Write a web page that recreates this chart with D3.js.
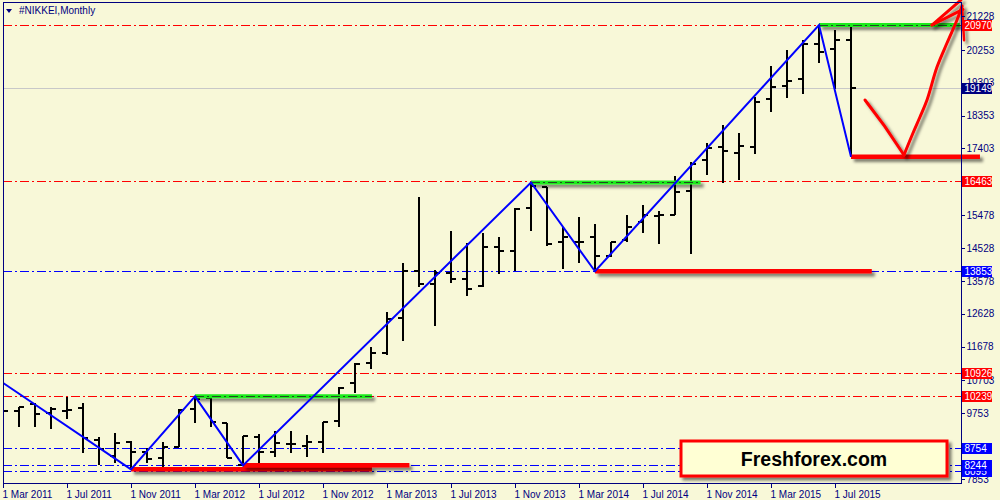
<!DOCTYPE html>
<html><head><meta charset="utf-8">
<script src="https://cdn.jsdelivr.net/npm/d3@7/dist/d3.min.js"></script>
<style>
html,body{margin:0;padding:0;background:#F8F8D8;}
svg{display:block;}
</style>
</head><body>
<svg id="chart" width="1000" height="500"></svg>
<script>
// ---------- DATA ----------
const months = ["Mar 2011","Apr 2011","May 2011","Jun 2011","Jul 2011","Aug 2011","Sep 2011","Oct 2011","Nov 2011","Dec 2011",
"Jan 2012","Feb 2012","Mar 2012","Apr 2012","May 2012","Jun 2012","Jul 2012","Aug 2012","Sep 2012","Oct 2012","Nov 2012","Dec 2012",
"Jan 2013","Feb 2013","Mar 2013","Apr 2013","May 2013","Jun 2013","Jul 2013","Aug 2013","Sep 2013","Oct 2013","Nov 2013","Dec 2013",
"Jan 2014","Feb 2014","Mar 2014","Apr 2014","May 2014","Jun 2014","Jul 2014","Aug 2014","Sep 2014","Oct 2014","Nov 2014","Dec 2014",
"Jan 2015","Feb 2015","Mar 2015","Apr 2015","May 2015","Jun 2015","Jul 2015","Aug 2015"];
const openV  = [10754,9823,10008,9765,9823,9893,8977,8514,8933,8638,8448,8783,9864,10182,9459,8262,9054,8638,8852,8812,8910,9534,10615,11193,11482,12494,13869,13485,13811,13621,13420,14563,14447,15690,16280,14690,14707,14835,14294,14756,15268,15460,15470,16187,17068,17453,17279,17453,18840,19207,19409,20412,20268,20536];
const highV  = [10768,9939,10037,9922,10211,10037,9072,9188,8948,8737,8927,9864,10239,10200,9459,9101,9150,9237,9237,9121,9505,10500,11193,11655,12667,14083,15990,13890,15025,14661,14967,14852,15673,16420,16280,15124,15412,15219,14707,15479,15768,15603,16606,17002,17551,18080,17840,18898,19785,20247,20536,20970,20826,20941];
const lowV   = [8205,9361,9361,9286,9575,8592,8254,8303,8130,8303,8205,8766,9476,9361,8448,8244,8321,8494,8609,8476,8609,9361,10343,11020,11433,11846,13407,12280,13505,13147,13407,13765,13869,15025,14583,13910,14083,13853,14256,14707,14950,14632,15470,14352,16635,16412,16490,17242,18464,18869,18976,19863,19112,17164];
const closeV = [9823,9930,9719,9864,9844,9026,8708,8881,8638,8427,8766,9844,10153,9488,8448,9101,8621,8881,8852,8910,9488,10488,11164,11482,12465,13869,13485,13811,13629,13332,14563,14447,15652,16317,14641,14852,14707,14294,14690,15141,15479,15490,16152,16953,17424,17337,17473,18753,19187,19352,20412,20198,20536,19149];

const yTickValues = [21228,20253,19303,18353,17403,15478,14528,13578,12628,11678,10703,9753,7853];
const xTickIndex  = [0,4,8,12,16,20,24,28,32,36,40,44,48,52];
const xTickLabels = ["1 Mar 2011","1 Jul 2011","1 Nov 2011","1 Mar 2012","1 Jul 2012","1 Nov 2012","1 Mar 2013","1 Jul 2013","1 Nov 2013","1 Mar 2014","1 Jul 2014","1 Nov 2014","1 Mar 2015","1 Jul 2015"];

const redLevels  = [20970,16463,10926,10239];
const blueLevels = [13853,8754,8095,8244];
const currentPrice = 19149;

const zigIdx = [-1,8,12,15,33,37,51,53];
const zigVal = [10940,8130,10239,8244,16420,13853,20970,17164];

// support (red) / resistance (green) segments: start index, end index, value
const supFrom = [53,37,8,15],  supTo = [61.06,54.3,23.06,25.4], supVal = [17164,13853,8130,8244];
const resFrom = [51,33,12],    resTo = [59.8,43.6,23.06],       resVal = [20970,16420,10239];

// hand-drawn arrow (month index, price)
const arrowIdx = [53.875,55.1,56.31,56.875,57.31,57.75,58.375,59.0,59.625,59.94];
const arrowVal = [18803,18050,17213,17849,18311,18803,19756,20450,21115,21519];

const titleText = "#NIKKEI,Monthly";
const brandText = "Freshforex.com";

// ---------- LAYOUT ----------
const svg = d3.select("#chart");
const L = 3, R = 961, T = 2, B = 483;
const x = d3.scaleLinear().domain([0, 53]).range([3, 851]);
const y = d3.scaleLinear().domain([7853, 21228]).range([478.9, 16.1]);
const font = "'Liberation Sans', Arial, sans-serif";
const navy = "#000080";

const defs = svg.append("defs");
defs.append("clipPath").attr("id","plot").append("rect")
  .attr("x",L).attr("y",T).attr("width",R-L).attr("height",B-T);
const f = defs.append("filter").attr("id","shadow").attr("filterUnits","userSpaceOnUse")
  .attr("x",0).attr("y",0).attr("width",1000).attr("height",500);
f.append("feDropShadow").attr("dx",3).attr("dy",3).attr("stdDeviation",1.8)
  .attr("flood-color","#000").attr("flood-opacity",0.5);

const dashDot = "9,3,2,3";

// level lines
const gl = svg.append("g").attr("clip-path","url(#plot)").attr("shape-rendering","crispEdges");
gl.append("line").attr("x1",L).attr("x2",R).attr("y1",Math.round(y(currentPrice))+0.5).attr("y2",Math.round(y(currentPrice))+0.5)
  .attr("stroke","#C8C8C8").attr("stroke-width",1);
redLevels.forEach(v=>{
  const yy = Math.round(y(v))+0.5;
  gl.append("line").attr("x1",L).attr("x2",R).attr("y1",yy).attr("y2",yy)
    .attr("stroke","#FF0000").attr("stroke-width",1).attr("stroke-dasharray",dashDot);
});
blueLevels.forEach(v=>{
  const yy = Math.round(y(v))+0.5;
  gl.append("line").attr("x1",L).attr("x2",R).attr("y1",yy).attr("y2",yy)
    .attr("stroke","#0000FF").attr("stroke-width",1).attr("stroke-dasharray",dashDot);
});

// OHLC bars
const gb = svg.append("g").attr("clip-path","url(#plot)").attr("shape-rendering","crispEdges")
  .attr("stroke","#000").attr("stroke-width",2).attr("fill","none");
months.forEach((m,i)=>{
  const cx = Math.round(x(i));
  gb.append("path").attr("d",
    `M${cx},${y(highV[i])}V${y(lowV[i])}` +
    `M${cx-5},${y(openV[i])}H${cx}` +
    `M${cx},${y(closeV[i])}H${cx+5}`);
});

// green resistance lines + red support lines (thick with shadow)
const ga = svg.append("g");
resVal.forEach((v,i)=>{
  const x1 = x(resFrom[i]), x2 = Math.min(x(resTo[i]), R-1);
  ga.append("line").attr("x1",x1).attr("x2",x2).attr("y1",y(v)).attr("y2",y(v))
    .attr("stroke","#1EEB1E").attr("stroke-width",4).attr("filter","url(#shadow)");
  ga.append("line").attr("x1",x1).attr("x2",x2).attr("y1",Math.round(y(v))+0.5).attr("y2",Math.round(y(v))+0.5)
    .attr("stroke","#222").attr("stroke-width",1).attr("stroke-dasharray",dashDot).attr("opacity",0.8);
});
supVal.forEach((v,i)=>{
  ga.append("line").attr("x1",x(supFrom[i])).attr("x2",x(supTo[i])).attr("y1",y(v)).attr("y2",y(v))
    .attr("stroke","#FF0000").attr("stroke-width",4.5).attr("filter","url(#shadow)");
});

// zigzag
const zz = zigIdx.map((d,i)=>[x(d), y(zigVal[i])]);
svg.append("path").attr("clip-path","url(#plot)").attr("d", d3.line()(zz))
  .attr("fill","none").attr("stroke","#0000FF").attr("stroke-width",2).attr("stroke-linejoin","miter");

// hand drawn arrow
const ap = arrowIdx.map((d,i)=>[x(d), y(arrowVal[i])]);
const ga2 = svg.append("g").attr("filter","url(#shadow)").attr("fill","none")
  .attr("stroke","#FF0000").attr("stroke-width",3).attr("stroke-linecap","round");
ga2.append("path").attr("d", d3.line()(ap.slice(0,3)));
ga2.append("path").attr("d", d3.line().curve(d3.curveCatmullRom)(ap.slice(2)));
const tip = ap[ap.length-1];
const headBase = [x(58.06), y(20970)];
ga2.append("path").attr("d", `M${headBase[0]},${headBase[1]}L${tip[0]-1},${y(21700)}`);
ga2.append("path").attr("d", `M${headBase[0]},${headBase[1]}L${tip[0]+1},${y(21420)}`);
ga2.append("path").attr("d", `M${tip[0]},${tip[1]}L${tip[0]+2},${y(20530)}`).attr("stroke-width",2.5);

// frame
svg.append("path").attr("d",`M${L+0.5},${B}V${T+0.5}H${R+0.5}V${B+0.5}H${L}`)
  .attr("fill","none").attr("stroke",navy).attr("stroke-width",1.5).attr("shape-rendering","crispEdges");

// right axis
const ay = svg.append("g").attr("transform",`translate(${R+0.5},0)`)
  .call(d3.axisRight(y).tickValues(yTickValues).tickSize(3).tickPadding(2).tickFormat(d3.format("d")));
ay.select(".domain").remove();
ay.selectAll("line").attr("stroke",navy).attr("shape-rendering","crispEdges");
ay.selectAll("text").attr("fill",navy).attr("font-family",font).attr("font-size","10px");

// bottom axis
const ax = svg.append("g").attr("transform",`translate(0,${B+0.5})`)
  .call(d3.axisBottom(x).tickValues(xTickIndex).tickSize(4).tickPadding(3).tickFormat((d,i)=>xTickLabels[i]));
ax.select(".domain").remove();
ax.selectAll("line").attr("stroke",navy).attr("shape-rendering","crispEdges");
ax.selectAll("text").attr("fill",navy).attr("font-family",font).attr("font-size","10px")
  .attr("text-anchor","start").attr("dx",-1);

// price labels
function priceLabel(v, col){
  const yy = y(v);
  svg.append("rect").attr("x",R+1).attr("y",Math.round(yy)-5).attr("width",30).attr("height",11).attr("fill",col);
  svg.append("text").attr("x",R+3.5).attr("y",Math.round(yy)+4).text(v)
    .attr("fill","#fff").attr("font-family",font).attr("font-size","10px");
}
redLevels.forEach(v=>priceLabel(v,"#FF0000"));
blueLevels.forEach(v=>priceLabel(v,"#0000FF"));
priceLabel(currentPrice, navy);

// title
svg.append("path").attr("d","M6,9L12,9L9,13Z").attr("fill",navy);
svg.append("text").attr("x",19).attr("y",14).text(titleText)
  .attr("fill",navy).attr("font-family",font).attr("font-size","10px");

// brand box
const bx = 681, by = 441, bw = 266, bh = 35;
svg.append("rect").attr("x",bx).attr("y",by).attr("width",bw).attr("height",bh)
  .attr("fill","#FFFFD4").attr("stroke","#FF0000").attr("stroke-width",3).attr("filter","url(#shadow)");
svg.append("text").attr("x",bx+bw/2).attr("y",by+bh/2+7).attr("text-anchor","middle").text(brandText)
  .attr("fill","#000").attr("font-family",font).attr("font-weight","bold").attr("font-size","19.5px");
</script>
</body></html>
